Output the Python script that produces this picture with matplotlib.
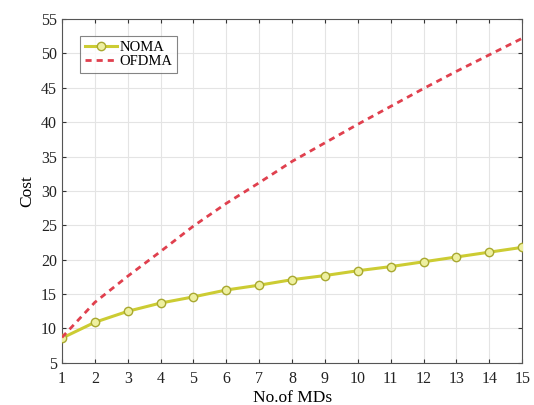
import numpy as np
import matplotlib
matplotlib.use('Agg')
import matplotlib.pyplot as plt

plt.rcParams['font.family'] = ['Liberation Serif', 'DejaVu Serif']

num_mds = [1, 2, 3, 4, 5, 6, 7, 8, 9, 10, 11, 12, 13, 14, 15]
noma_cost = [8.6, 10.9, 12.5, 13.7, 14.6, 15.6, 16.3, 17.1, 17.7, 18.4, 19.0, 19.7, 20.4, 21.1, 21.8]
ofdma_cost = [8.7, 13.8, 17.6, 21.2, 24.9, 28.2, 31.2, 34.3, 37.0, 39.7, 42.3, 44.9, 47.4, 49.8, 52.2]

x_ticks = list(range(1, 16))
y_ticks = list(range(5, 56, 5))

fig = plt.figure(figsize=(5.34, 4.05), dpi=100)
ax = fig.add_axes([0.116, 0.104, 0.862, 0.849])

ax.plot(num_mds, noma_cost, color='#cccc33', linewidth=2.2, marker='o',
        markersize=6, markerfacecolor='#eef0a0', markeredgecolor='#a8a830',
        markeredgewidth=1.0, label='NOMA', zorder=3)
ax.plot(num_mds, ofdma_cost, color='#e0404e', linestyle='--', linewidth=2.0,
        dashes=(2.2, 1.8), label='OFDMA', zorder=3)

ax.set_xlim(1, 15)
ax.set_ylim(5, 55)
ax.set_xticks(x_ticks)
ax.set_yticks(y_ticks)
ax.tick_params(direction='in', top=True, right=True, labelsize=11.5,
               length=3, colors='#333333', labelcolor='#222222')
ax.tick_params(axis='x', pad=6)
ax.grid(True, color='#e4e4e4', linewidth=0.8)
for s in ax.spines.values():
    s.set_color('#555555')
    s.set_linewidth(0.8)

ax.set_xlabel('No.of MDs', fontsize=12.5, labelpad=2)
ax.set_ylabel('Cost', fontsize=12.5, labelpad=4)

leg = ax.legend(loc='upper left', bbox_to_anchor=(0.04, 0.95), fontsize=10.5,
                frameon=True, fancybox=False, handlelength=2.2,
                handletextpad=0.2, borderpad=0.3, labelspacing=0.1,
                borderaxespad=0)
leg.get_frame().set_edgecolor('#666666')
leg.get_frame().set_linewidth(0.8)

plt.savefig('out.png', dpi=100)
